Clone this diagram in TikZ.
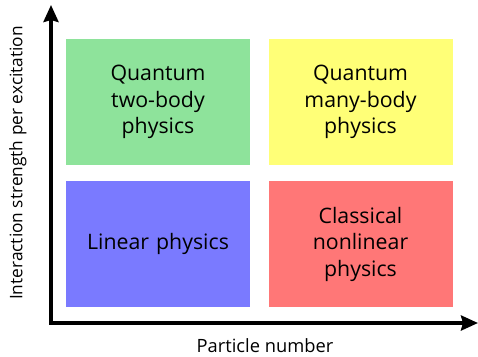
\documentclass[tikz,border=0pt]{standalone}
\usepackage{fontspec}
\setmainfont{Open Sans}
\usetikzlibrary{arrows.meta, calc}
\definecolor{cgreen}{HTML}{8EE39B}
\definecolor{cyellow}{HTML}{FFFF77}
\definecolor{cblue}{HTML}{7A7AFF}
\definecolor{cred}{HTML}{FF7777}

\begin{document}
\begin{tikzpicture}[
  x=1pt, y=-1pt,
  regime/.style={
    rectangle, draw=none, minimum width=184pt, minimum height=126pt,
    inner sep=0pt, align=center, text width=180pt, font=\fontsize{21.3}{26.5}\selectfont
  },
  axis/.style={line width=3.5pt, -{Stealth[length=17pt, width=15pt, inset=2pt]}},
  axlabel/.style={font=\fontsize{18.3}{21}\selectfont}
]
\useasboundingbox (0,0) rectangle (478,356);

% ============================================================
% Four regimes
\node[regime, fill=cgreen]  (qtwo)  at (158, 102) {Quantum\\two-body\\physics};
\node[regime, fill=cyellow] (qmany) at (360.5, 102) {Quantum\\many-body\\physics};
\node[regime, fill=cblue]   (lin)   at (158, 244) {Linear physics};
\node[regime, fill=cred]    (cnl)   at (360.5, 244) {Classical\\nonlinear\\physics};

% ============================================================
% Axes
\coordinate (o)  at (51, 323);
\coordinate (yt) at (51, 5);
\coordinate (xt) at (478, 323);
\draw[axis] ($(o)+(0,1.75)$) -- (yt);
\draw[axis] ($(o)+(-1.75,0)$) -- (xt);

\node[axlabel] (xlab) at (265, 346) {Particle number};
\node[axlabel, font=\fontsize{17.3}{21}\selectfont, rotate=90] (ylab) at (18, 163) {Interaction strength per excitation};

\end{tikzpicture}
\end{document}
